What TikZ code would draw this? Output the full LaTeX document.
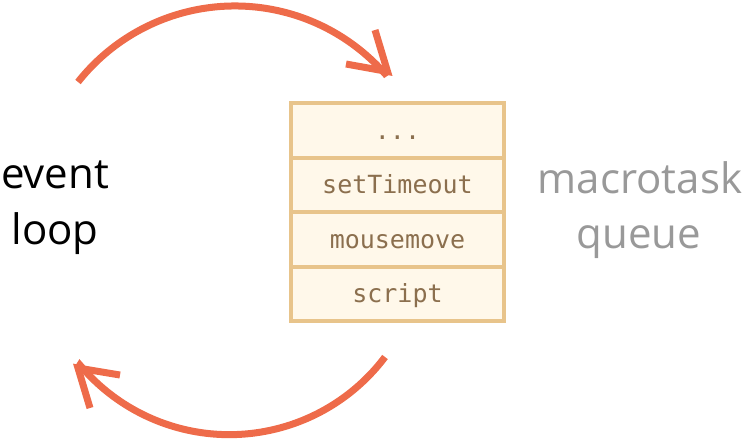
\documentclass[tikz,border=0pt]{standalone}
\usepackage{fontspec}
\setmainfont{Open Sans}
\newfontfamily\queuemono{DejaVu Sans Mono}
\definecolor{arrowred}{RGB}{238,107,74}
\definecolor{cellfill}{RGB}{255,248,234}
\definecolor{cellborder}{RGB}{232,196,139}
\definecolor{celltext}{RGB}{139,111,78}
\definecolor{captiongray}{RGB}{153,153,153}
\begin{document}
\begin{tikzpicture}[x=1pt,y=1pt,
  cell/.style={draw=cellborder, fill=cellfill, line width=4pt,
    minimum width=213pt, minimum height=54.5pt, inner sep=0pt, outer sep=0pt,
    text=celltext, font=\queuemono\fontsize{25}{25}\selectfont,
    text height=18pt, text depth=0pt},
  looparrow/.style={draw=arrowred, line width=7pt},
  barb/.style={draw=arrowred, line width=7pt, line join=miter},
  caption/.style={font=\fontsize{42}{50}\selectfont, inner sep=0pt, anchor=base}
]
\useasboundingbox (0,0) rectangle (745,-440);

% the queue, newest task on top
\node[cell] (dots)    at (397.5,-130.25) {...};
\node[cell] (timeout) at (397.5,-184.75) {setTimeout};
\node[cell] (mouse)   at (397.5,-239.25) {mousemove};
\node[cell] (script)  at (397.5,-293.75) {script};

% labels
\node[caption, text=black] (ev1) at (55,-188) {event};
\node[caption, text=black] (ev2) at (55,-244) {loop};
\node[caption, text=captiongray] (mq1) at (640,-193) {macrotask};
\node[caption, text=captiongray] (mq2) at (639,-248) {queue};

% upper loop arrow
\coordinate (topstart) at (78,-82);
\coordinate (topjoin)  at (387.5,-71.5);
\coordinate (topbarbA) at (375,-30);
\coordinate (topbarbB) at (346,-64);
\draw[looparrow] (topstart) arc[start angle=141.7, end angle=41.5, radius=200] -- (topjoin);
\draw[barb] (topbarbA) -- (topjoin) -- (topbarbB);

% lower loop arrow
\coordinate (botstart) at (385,-357);
\coordinate (botjoin)  at (78,-368);
\coordinate (botbarbA) at (120,-375);
\coordinate (botbarbB) at (90,-408);
\draw[looparrow] (botstart) arc[start angle=-37, end angle=-140, radius=195] -- (botjoin);
\draw[barb] (botbarbA) -- (botjoin) -- (botbarbB);
\end{tikzpicture}
\end{document}
